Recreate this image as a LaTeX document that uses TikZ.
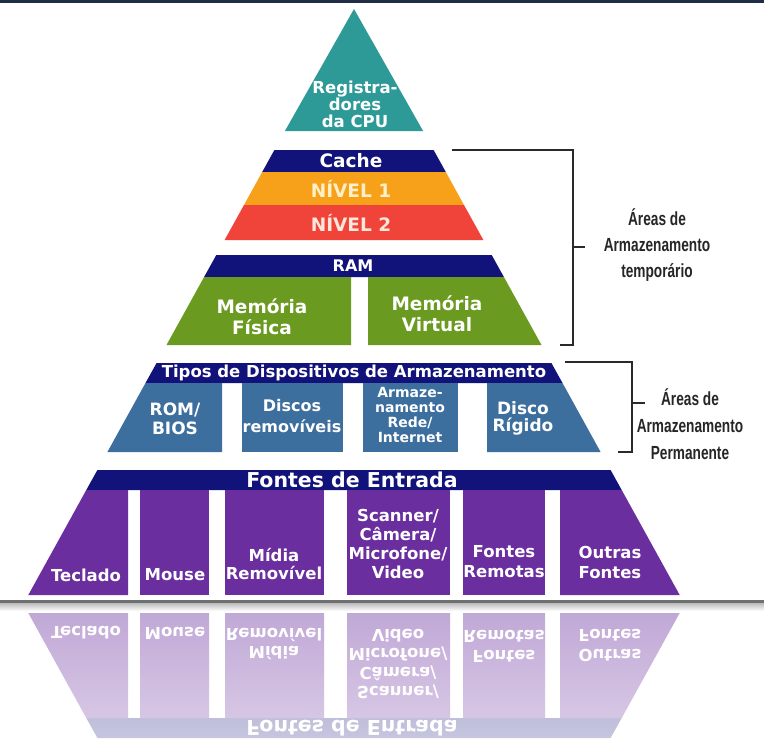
\documentclass[tikz,border=0pt]{standalone}
\usepackage{fontspec}
\setmainfont{DejaVu Sans}
\newfontfamily\labelfont[FakeStretch=0.72]{Liberation Sans}
\usetikzlibrary{fadings}

\definecolor{frameline}{HTML}{1F2D45}
\definecolor{cputeal}{HTML}{2E9A98}
\definecolor{bandnavy}{HTML}{12137A}
\definecolor{lvlorange}{HTML}{F7A11A}
\definecolor{lvlred}{HTML}{F0443A}
\definecolor{ramgreen}{HTML}{6A9A1F}
\definecolor{storeblue}{HTML}{3C6E9E}
\definecolor{inpurple}{HTML}{6B2E9E}
\definecolor{lvlonetext}{HTML}{FFF0C8}
\definecolor{lvltwotext}{HTML}{FDE6DA}
\definecolor{sepdark}{HTML}{707070}
\definecolor{bracketgray}{HTML}{2A2A2A}

\newcommand\setfs[2]{\fontsize{#1}{#2}\selectfont}

\tikzfading[name=reflectfade, top color=transparent!100, bottom color=transparent!55]

\tikzset{
  whitetext/.style={text=white, align=center, inner sep=0pt},
  boxtext/.style={whitetext, font=\bfseries\setfs{16.5}{19}},
  headtext/.style={whitetext, font=\bfseries\setfs{18.5}{20}},
  bracket/.style={draw=bracketgray, line width=1.4pt},
  arealabel/.style={text=black!85, align=center, inner sep=0pt, font=\labelfont\bfseries\setfs{19}{26}},
}

% Bottom layer of the pyramid (input sources); #1 is a prefix for node names
\newcommand\fontesband[1]{%
  \fill[bandnavy] (97.4,470) -- (610.6,470) -- (621.7,490) -- (86.3,490) -- cycle;
  \fill[inpurple] (86.3,490) -- (128,490) -- (128,595) -- (28.3,595) -- cycle;
  \fill[inpurple] (140,490) rectangle (209,595);
  \fill[inpurple] (225,490) rectangle (324,595);
  \fill[inpurple] (347,490) rectangle (450,595);
  \fill[inpurple] (463,490) rectangle (545,595);
  \fill[inpurple] (560,490) -- (621.7,490) -- (679.7,595) -- (560,595) -- cycle;
  \node[headtext, font=\bfseries\setfs{20.5}{21}] (#1head) at (352,480) {Fontes de Entrada};
  \node[boxtext] (#1tec) at (86,575) {Teclado};
  \node[boxtext] (#1mouse) at (175,575) {Mouse};
  \node[boxtext, font=\bfseries\setfs{16.5}{18}] (#1midia) at (274,564) {Mídia\\Removível};
  \node[boxtext] (#1scan) at (398,543.5) {Scanner/\\Câmera/\\Microfone/\\Video};
  \node[boxtext, font=\bfseries\setfs{16.5}{20}] (#1remotas) at (504,562) {Fontes\\Remotas};
  \node[boxtext, font=\bfseries\setfs{16.5}{20}] (#1outras) at (610,562) {Outras\\Fontes};
}

\begin{document}
\begin{tikzpicture}[x=1pt, y=-1pt]
\useasboundingbox (0,0) rectangle (764,744);
\fill[white] (0,0) rectangle (764,744);
\fill[frameline] (0,0) rectangle (764,2.5);

% CPU registers at the apex
\fill[cputeal] (354,9) -- (423.1,131) -- (284.9,131) -- cycle;
\node[boxtext, font=\bfseries\setfs{16.5}{17}] (cpu) at (355,104) {Registra-\\dores\\da CPU};

% Cache levels
\fill[bandnavy] (274.4,150) -- (433.6,150) -- (445.8,172) -- (262.2,172) -- cycle;
\fill[lvlorange] (262.2,172) -- (445.8,172) -- (464,205) -- (244,205) -- cycle;
\fill[lvlred] (244,205) -- (464,205) -- (483.4,240) -- (224.6,240) -- cycle;
\node[headtext] (cache) at (351,161) {Cache};
\node[headtext, text=lvlonetext] (nivel1) at (351,189) {NÍVEL 1};
\node[headtext, text=lvltwotext] (nivel2) at (351,223) {NÍVEL 2};

% RAM
\fill[bandnavy] (216.3,255) -- (491.7,255) -- (503.9,277) -- (204.1,277) -- cycle;
\fill[ramgreen] (204.1,277) -- (351,277) -- (351,345) -- (166.5,345) -- cycle;
\fill[ramgreen] (368,277) -- (503.9,277) -- (541.5,345) -- (368,345) -- cycle;
\node[headtext, font=\bfseries\setfs{16}{18}] (ram) at (353,266) {RAM};
\node[whitetext, font=\bfseries\setfs{18.5}{21}] (fisica) at (262,317) {Memória\\Física};
\node[whitetext, font=\bfseries\setfs{18.5}{21}] (virtual) at (437,314) {Memória\\Virtual};

% Storage devices
\fill[bandnavy] (156.6,363) -- (551.4,363) -- (562.5,383) -- (145.5,383) -- cycle;
\fill[storeblue] (145.5,383) -- (222,383) -- (222,452) -- (107.4,452) -- cycle;
\fill[storeblue] (242,383) rectangle (343,452);
\fill[storeblue] (363,383) rectangle (458,452);
\fill[storeblue] (487,383) -- (562.5,383) -- (600.6,452) -- (487,452) -- cycle;
\node[headtext, font=\bfseries\setfs{16.5}{18}] (tipos) at (354,373) {Tipos de Dispositivos de Armazenamento};
\node[whitetext, font=\bfseries\setfs{17}{19}] (rom) at (175,419) {ROM/\\BIOS};
\node[whitetext, font=\bfseries\setfs{16}{21}] (discos) at (292,416) {Discos\\removíveis};
\node[whitetext, font=\bfseries\setfs{14}{15}] (rede) at (410,415) {Armaze-\\namento\\Rede/\\Internet};
\node[whitetext, font=\bfseries\setfs{17}{17}] (rigido) at (523,418.5) {Disco\\Rígido};

% Input sources
\fontesband{in}

% Brackets and their captions
\coordinate (ta) at (452,150);
\coordinate (tb) at (573,150);
\coordinate (tc) at (573,345);
\coordinate (td) at (560,345);
\coordinate (tm) at (573,247);
\coordinate (tt) at (585,247);
\draw[bracket] (ta) -- (tb) -- (tc) -- (td);
\draw[bracket] (tm) -- (tt);
\node[arealabel] (temporario) at (657,245) {Áreas de\\Armazenamento\\temporário};

\coordinate (pa) at (565,362);
\coordinate (pb) at (632,362);
\coordinate (pc) at (632,452);
\coordinate (pd) at (618,452);
\coordinate (pm) at (632,403);
\coordinate (pt) at (645,403);
\draw[bracket] (pa) -- (pb) -- (pc) -- (pd);
\draw[bracket] (pm) -- (pt);
\node[arealabel, font=\labelfont\bfseries\setfs{19}{27}] (permanente) at (690,424) {Áreas de\\Armazenamento\\Permanente};

% Floor line
\fill[sepdark] (0,599.5) rectangle (764,603.5);
\shade[top color=black!25, bottom color=white] (0,603.5) rectangle (764,611);

% Mirrored input layer below the floor
\begin{scope}[yshift=-1208pt, yscale=-1, transparency group, opacity=0.42,
              every node/.append style={transform shape}]
  \fontesband{mirror}
\end{scope}
\fill[white, path fading=reflectfade] (0,608) rectangle (764,744);
\end{tikzpicture}
\end{document}
